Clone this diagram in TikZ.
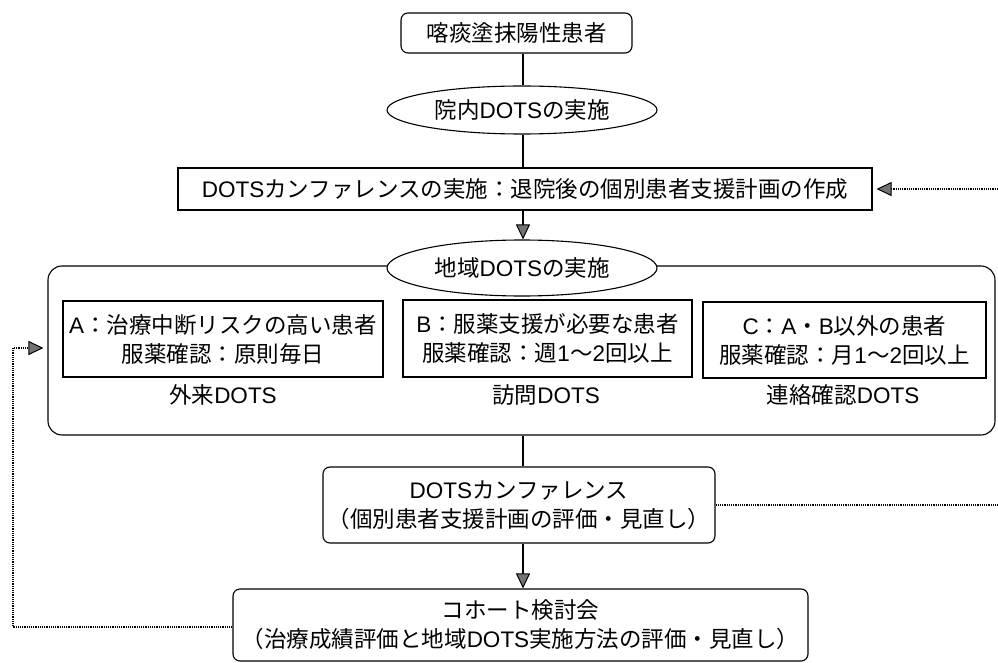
\documentclass[tikz,border=0pt]{standalone}
\usepackage{fontspec}
\setmainfont{Noto Sans CJK JP}
\newfontfamily\lat{Liberation Sans}
\usetikzlibrary{shapes.geometric,arrows.meta}
\tikzset{
  every node/.style={font=\fontsize{22.5}{29}\selectfont, inner sep=0pt, align=center},
  rbox/.style={draw, rounded corners=7pt, line width=1.1pt},
  sbox/.style={draw, line width=1.1pt},
  ebox/.style={draw, ellipse, fill=white, line width=1.1pt},
  conn/.style={line width=1.1pt},
  gtip/.style={-{Triangle[length=15pt,width=14pt,fill=black!55,line width=1pt]}},
  fb/.style={line width=1.5pt, dash pattern=on 1.2pt off 1pt},
}
\newcommand{\dt}{{\lat DOTS}}
\begin{document}
\begin{tikzpicture}[x=1pt,y=-1pt]
\useasboundingbox (0,0) rectangle (998,663);
\coordinate (ax) at (523,0);
% main column
\node[rbox, minimum width=231pt, minimum height=40pt] (top) at (516.5,33) {喀痰塗抹陽性患者};
\node[ebox, minimum width=270pt, minimum height=48pt] (innai) at (522,110) {院内\dt の実施};
\node[sbox, minimum width=694pt, minimum height=42pt] (conf1) at (525,189) {\dt カンファレンスの実施：退院後の個別患者支援計画の作成};
\node[rbox, rounded corners=14pt, minimum width=947pt, minimum height=169pt] (big) at (521.5,350.5) {};
\node[ebox, minimum width=270pt, minimum height=56pt] (chiiki) at (522,268) {地域\dt の実施};
\node[sbox, minimum width=320pt, minimum height=76pt] (A) at (223,339) {{\lat A}：治療中断リスクの高い患者\\服薬確認：原則毎日};
\node[sbox, minimum width=289pt, minimum height=77pt] (B) at (547.5,338.5) {{\lat B}：服薬支援が必要な患者\\服薬確認：週{\lat 1}〜{\lat 2}回以上};
\node[sbox, minimum width=283pt, minimum height=76pt] (C) at (844.5,340) {{\lat C}：{\lat A}・{\lat B}以外の患者\\服薬確認：月{\lat 1}〜{\lat 2}回以上};
\node (la) at (223,395) {外来\dt};
\node (lb) at (546,395) {訪問\dt};
\node (lc) at (843,395) {連絡確認\dt};
\node[rbox, minimum width=392pt, minimum height=76pt] (conf2) at (519,505) {\dt カンファレンス\\（個別患者支援計画の評価・見直し）};
\node[rbox, minimum width=575pt, minimum height=72pt] (cohort) at (520.5,625) {コホート検討会\\（治療成績評価と地域\dt 実施方法の評価・見直し）};
% connectors
\draw[conn] (top.south -| ax) -- (innai.north -| ax);
\draw[conn] (innai.south -| ax) -- (conf1.north -| ax);
\draw[conn, gtip] (conf1.south -| ax) -- (chiiki.north -| ax);
\draw[conn] (big.south -| ax) -- (conf2.north -| ax);
\draw[conn, gtip] (conf2.south -| ax) -- (cohort.north -| ax);
% feedback dotted lines
\coordinate (r1) at (998,189);
\coordinate (r2) at (998,505);
\coordinate (lcor) at (13,348);
\draw[fb, gtip, shorten >=4pt] (r1) -- (r1 -| conf1.east);
\draw[fb] (conf2.east |- r2) -- (r2);
\draw[fb, gtip, shorten >=4pt] (cohort.west |- 0,627) -| (lcor) -- (lcor -| big.west);
\end{tikzpicture}
\end{document}
